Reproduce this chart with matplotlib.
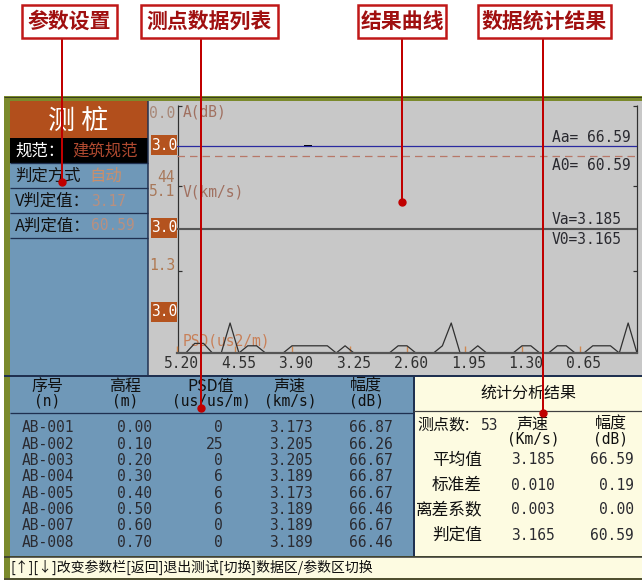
import matplotlib
matplotlib.use('Agg')
import matplotlib.pyplot as plt
from matplotlib.patches import Rectangle
import matplotlib.transforms as mtrans

W, H = 642, 580
CJK = ['Noto Sans CJK SC', 'DejaVu Sans']
MONO = ['DejaVu Sans Mono', 'Noto Sans CJK SC']

# ---------------- data ----------------
depths = [0.0, 0.1, 0.2, 0.3, 0.4, 0.5, 0.6, 0.7, 0.8, 0.9,
          1.0, 1.1, 1.2, 1.3, 1.4, 1.5, 1.6, 1.7, 1.8, 1.9,
          2.0, 2.1, 2.2, 2.3, 2.4, 2.5, 2.6, 2.7, 2.8, 2.9,
          3.0, 3.1, 3.2, 3.3, 3.4, 3.5, 3.6, 3.7, 3.8, 3.9,
          4.0, 4.1, 4.2, 4.3, 4.4, 4.5, 4.6, 4.7, 4.8, 4.9,
          5.0, 5.1, 5.2]
psd_values = [0, 25, 0, 6, 6, 6, 0, 0, 6, 6,
              0, 0, 6, 6, 0, 0, 0, 0, 6, 0,
              0, 25, 6, 0, 0, 0, 6, 6, 0, 0,
              0, 0, 0, 6, 0, 6, 6, 6, 6, 6,
              0, 0, 0, 6, 6, 0, 25, 0, 0, 8,
              8, 0, 0]
xtick_values = [5.20, 4.55, 3.90, 3.25, 2.60, 1.95, 1.30, 0.65]
xtick_labels = ['5.20', '4.55', '3.90', '3.25', '2.60', '1.95', '1.30', '0.65']

amp_avg_line = 66.59   # Aa
amp_judge_line = 60.59  # A0
vel_avg_line = 3.185   # Va
vel_judge_line = 3.165  # V0

param_rows = [('规范：', '建筑规范'), ('判定方式', '自动'),
              ('V判定值：', '3.17'), ('A判定值：', '60.59')]

table_ids = ['AB-001', 'AB-002', 'AB-003', 'AB-004', 'AB-005', 'AB-006', 'AB-007', 'AB-008']
table_elev = ['0.00', '0.10', '0.20', '0.30', '0.40', '0.50', '0.60', '0.70']
table_psd = ['0', '25', '0', '6', '6', '6', '0', '0']
table_vel = ['3.173', '3.205', '3.205', '3.189', '3.173', '3.189', '3.189', '3.189']
table_amp = ['66.87', '66.26', '66.67', '66.87', '66.67', '66.46', '66.67', '66.46']
table_headers = [('序号', '(n)'), ('高程', '(m)'), ('PSD值', '(us/us/m)'),
                 ('声速', '(km/s)'), ('幅度', '(dB)')]

n_points = 53
stat_names = ['平均值', '标准差', '离差系数', '判定值']
stat_vel = ['3.185', '0.010', '0.003', '3.165']
stat_amp = ['66.59', '0.19', '0.00', '60.59']

callouts = ['参数设置', '测点数据列表', '结果曲线', '数据统计结果']
status_text = '[↑][↓]改变参数栏[返回]退出测试[切换]数据区/参数区切换'

# ---------------- layout helpers ----------------
fig = plt.figure(figsize=(W / 100, H / 100), dpi=100)
fig.patch.set_facecolor('white')


def pax(x0, y0, x1, y1):
    return fig.add_axes([x0 / W, 1 - y1 / H, (x1 - x0) / W, (y1 - y0) / H])


cv = pax(0, 0, W, H)
cv.set_xlim(0, W)
cv.set_ylim(H, 0)
cv.axis('off')
PX = 0.72  # 1 px in points


def rect(ax, x0, y0, x1, y1, fc, ec='none', lw=0, z=1):
    ax.add_patch(Rectangle((x0, y0), x1 - x0, y1 - y0, facecolor=fc,
                           edgecolor=ec, linewidth=lw, zorder=z))


def hl(ax, y, x0, x1, c, lw=1, z=3, ls='-'):
    ax.plot([x0, x1], [y, y], color=c, lw=lw * PX, zorder=z, ls=ls,
            solid_capstyle='butt')


def vl(ax, x, y0, y1, c, lw=1, z=3):
    ax.plot([x, x], [y0, y1], color=c, lw=lw * PX, zorder=z,
            solid_capstyle='butt')


OLIVE = '#7b8a2c'
BLUE = '#6f98b8'
NAVY = '#1f3050'
CREAM = '#fdfbe1'
GRAY = '#c8c8c8'
ORANGE = '#b4531e'
TXT = '#2a2a30'

# frame
rect(cv, 4, 96, W, H, OLIVE)
hl(cv, 96.5, 4, W, '#3a4020', 1)
# left parameter panel
rect(cv, 10, 101, 148, 375, BLUE, z=2)
rect(cv, 10, 101, 148, 138, '#b24f1c', z=2)
rect(cv, 10, 138, 148, 163, '#000000', z=2)
for yy in [163, 188, 213, 238]:
    hl(cv, yy, 10, 148, NAVY, 1.3)
cv.text(78, 121, '测 桩', color='white', fontsize=19.5, family=CJK,
        ha='center', va='center', zorder=5)
row_y = [151, 176, 201, 226]
val_cols = ['#b04a30', '#c98f6c', '#b89080', '#b89080']
for (lab, val), yy, vc in zip(param_rows, row_y, val_cols):
    lc = 'white' if lab.startswith('规范') else '#101010'
    cv.text(15, yy, lab, color=lc, fontsize=11.8, family=CJK, va='center', zorder=5)
    vx = 72 if lab.startswith('规范') else (89 if lab.startswith('判定') else 91)
    cv.text(vx, yy, val, color=vc, fontsize=11.8 if not val[0].isdigit() else 10.5,
            family=CJK if not val[0].isdigit() else MONO, va='center', zorder=5)

# chart background
rect(cv, 148, 101, W, 375, GRAY, z=2)
vl(cv, 148, 101, 375, NAVY, 1.5)
hl(cv, 375.5, 4, W, NAVY, 2)

# table panel
rect(cv, 10, 377, 413, 556, BLUE, z=2)
hl(cv, 412.5, 10, 413, NAVY, 1.3)
# stats panel
rect(cv, 413, 377, W, 556, CREAM, z=2)
vl(cv, 413.5, 377, 556, NAVY, 2)
hl(cv, 411, 413, W, '#404040', 1.2)
# status bar
rect(cv, 10, 557, W, 578, CREAM, z=2)
hl(cv, 556.5, 4, W, '#303030', 1.5)
hl(cv, 578.5, 4, W, '#505030', 2)

# ---- chart decorations (left column labels) ----
AXL, AXR, AXT, AXB = 178, 636.5, 105, 353
vl(cv, AXL, AXT, AXB, '#303030', 1.2, z=4)
vl(cv, AXR, AXT, AXB, '#303030', 1.2, z=4)
for yy in [106, 186, 271]:
    hl(cv, yy, AXL, AXL + 4, '#303030', 1.2, z=4)
    hl(cv, yy, AXR - 4, AXR, '#303030', 1.2, z=4)

LBR = '#a8785a'
cv.text(175, 113, '0.0', color='#a88878', fontsize=10.5, family=MONO, ha='right', va='center', zorder=5)
cv.text(175, 177, '44', color=LBR, fontsize=10.5, family=MONO, ha='right', va='center', zorder=5)
cv.text(175, 192, '5.1', color=LBR, fontsize=10.5, family=MONO, ha='right', va='center', zorder=5)
cv.text(175, 266, '1.3', color='#b07850', fontsize=10.5, family=MONO, ha='right', va='center', zorder=5)
for (y0, y1) in [(135, 155), (218, 238), (302, 322)]:
    rect(cv, 151, y0, 177, y1, ORANGE, z=4)
    cv.text(164, (y0 + y1) / 2, '3.0', color='white', fontsize=10.5, family=MONO,
            ha='center', va='center', zorder=5)
cv.text(183, 112, 'A(dB)', color='#a07060', fontsize=10.5, family=MONO, va='center', zorder=5)
cv.text(183, 192, 'V(km/s)', color='#a07060', fontsize=10.5, family=MONO, va='center', zorder=5)
cv.text(183, 341, 'PSD(us2/m)', color='#c88058', fontsize=10.5, family=MONO, va='center', zorder=5)

# ---- data axes ----
axA = pax(177, 105, 637, 187)
axV = pax(177, 187, 637, 272)
axP = pax(177, 272, 637, 353)
for ax in (axA, axV, axP):
    ax.set_facecolor('none')
    for s in ax.spines.values():
        s.set_visible(False)
    ax.set_xlim(5.2, 0.0)
    ax.set_yticks([])
for ax in (axA, axV):
    ax.set_xticks([])

axA.set_ylim(41.8, 91.0)
axA.axhline(amp_avg_line, color='#2a2aa0', lw=0.9)
axA.axhline(amp_judge_line, color='#b87868', lw=0.9, ls=(0, (6, 4)))

axV.set_ylim(2.098, 4.22)
axV.axhline(vel_avg_line, color='#555555', lw=0.8)
axV.axhline(vel_judge_line, color='#555555', lw=0.8)

axP.set_ylim(0, 67.5)
axP.plot(depths, psd_values, color='#303030', lw=0.9, clip_on=False)
axP.spines['bottom'].set_visible(True)
axP.spines['bottom'].set_color('#555555')
axP.spines['bottom'].set_linewidth(1.6)
axP.set_xticks(xtick_values)
axP.set_xticklabels(xtick_labels, family=MONO, fontsize=10.5, color='#303030')
axP.tick_params(axis='x', direction='in', length=5, width=1, color='#d08850', pad=2)
off = mtrans.ScaledTranslation(4 / 100, 0, fig.dpi_scale_trans)
for lab in axP.get_xticklabels():
    lab.set_transform(lab.get_transform() + off)

# cursor mark
hl(cv, 146, 304, 312, '#000000', 2, z=6)

# right side readouts
cv.text(552, 137, f'Aa= {amp_avg_line:.2f}', color=TXT, fontsize=10.5, family=MONO, va='center', zorder=6)
cv.text(552, 165, f'A0= {amp_judge_line:.2f}', color=TXT, fontsize=10.5, family=MONO, va='center', zorder=6)
cv.text(552, 220, f'Va={vel_avg_line:.3f}', color=TXT, fontsize=10.5, family=MONO, va='center', zorder=6)
cv.text(552, 239, f'V0={vel_judge_line:.3f}', color=TXT, fontsize=10.5, family=MONO, va='center', zorder=6)

# ---- data table ----
hx = [47, 125, 211, 290, 366]
for (h1, h2), x in zip(table_headers, hx):
    cv.text(x, 386, h1, color='#101010', fontsize=11.5, family=CJK, ha='center', va='center', zorder=5)
    cv.text(x, 401, h2, color='#101010', fontsize=10.5, family=MONO, ha='center', va='center', zorder=5)
for i in range(len(table_ids)):
    yy = 428 + i * 16.3
    kw = dict(color=TXT, fontsize=10.5, family=MONO, va='center', zorder=5)
    cv.text(22, yy, table_ids[i], ha='left', **kw)
    cv.text(152, yy, table_elev[i], ha='right', **kw)
    cv.text(223, yy, table_psd[i], ha='right', **kw)
    cv.text(313, yy, table_vel[i], ha='right', **kw)
    cv.text(393, yy, table_amp[i], ha='right', **kw)

# ---- statistics ----
cv.text(528, 393, '统计分析结果', color='#101010', fontsize=11.5, family=CJK, ha='center', va='center', zorder=5)
cv.text(417, 425, '测点数:', color='#101010', fontsize=11.5, family=CJK, va='center', zorder=5)
cv.text(481, 425, f'{n_points}', color=TXT, fontsize=10.5, family=MONO, va='center', zorder=5)
cv.text(533, 424, '声速', color='#101010', fontsize=11.5, family=CJK, ha='center', va='center', zorder=5)
cv.text(533, 439, '(Km/s)', color='#101010', fontsize=10.5, family=MONO, ha='center', va='center', zorder=5)
cv.text(611, 424, '幅度', color='#101010', fontsize=11.5, family=CJK, ha='center', va='center', zorder=5)
cv.text(611, 439, '(dB)', color='#101010', fontsize=10.5, family=MONO, ha='center', va='center', zorder=5)
for i, name in enumerate(stat_names):
    yy = 460 + i * 25
    cv.text(482, yy, name, color='#101010', fontsize=12, family=CJK, ha='right', va='center', zorder=5)
    cv.text(533, yy, stat_vel[i], color=TXT, fontsize=10.5, family=MONO, ha='center', va='center', zorder=5)
    cv.text(634, yy, stat_amp[i], color=TXT, fontsize=10.5, family=MONO, ha='right', va='center', zorder=5)

# status bar
cv.text(10, 567, status_text, color='#101010', fontsize=10, family=CJK, va='center', zorder=5)

# ---- callouts overlay ----
ov = pax(0, 0, W, H)
ov.set_xlim(0, W)
ov.set_ylim(H, 0)
ov.axis('off')
ov.patch.set_alpha(0)
boxes = [(22, 117), (141, 278), (358, 446), (478, 611)]
line_x = [62, 201, 402, 543]
dot_y = [182, 408, 202, 413]
for (bx0, bx1), lx, dy, txt in zip(boxes, line_x, dot_y, callouts):
    rect(ov, bx0, 5, bx1, 38, 'white', ec='#c01818', lw=1.8, z=10)
    ov.text((bx0 + bx1) / 2, 21.5, txt, color='#a01010', fontsize=15, family=CJK,
            fontweight='bold', ha='center', va='center', zorder=11)
    vl(ov, lx, 38, dy, '#c00000', 2, z=9)
    ov.plot([lx], [dy], 'o', color='#c00000', ms=5, zorder=9)

fig.savefig('out.png', dpi=100)
